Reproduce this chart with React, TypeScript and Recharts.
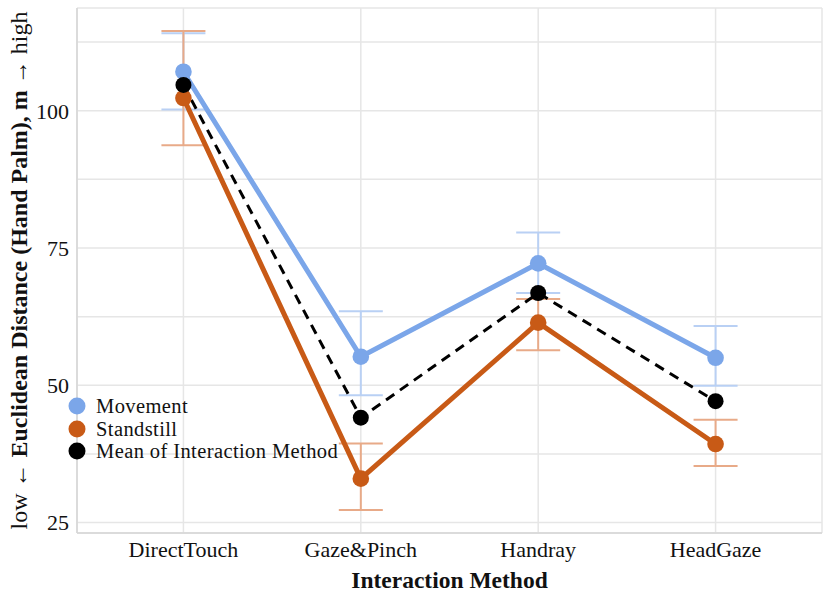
import * as React from 'react';
import { CartesianGrid, ErrorBar, Legend, Line, LineChart, XAxis, YAxis } from 'recharts';

document.body.style.margin = '0';

const FONT = '"Liberation Serif", serif';

const methods = ['DirectTouch', 'Gaze&Pinch', 'Handray', 'HeadGaze'];
const movementMean = [107.1, 55.2, 72.2, 55.0];
const movementLow = [100.2, 48.2, 66.8, 49.9];
const movementHigh = [114.1, 63.5, 77.8, 60.8];
const standstillMean = [102.3, 33.0, 61.4, 39.3];
const standstillLow = [93.7, 27.3, 56.4, 35.3];
const standstillHigh = [114.5, 39.4, 65.7, 43.7];
const overallMean = [104.7, 44.1, 66.8, 47.1];
const yTicks = [25, 37.5, 50, 62.5, 75, 87.5, 100, 112.5];
const xTicks = [1, 2, 3, 4];

const BLUE = '#7ba6e9';
const ORANGE = '#c85a16';

const legendItems = [
  { name: 'Movement', color: BLUE },
  { name: 'Standstill', color: ORANGE },
  { name: 'Mean of Interaction Method', color: '#000000' },
];

const data = methods.map((m, i) => ({
  x: i + 1,
  method: m,
  movement: movementMean[i],
  movementErr: [movementMean[i] - movementLow[i], movementHigh[i] - movementMean[i]],
  standstill: standstillMean[i],
  standstillErr: [standstillMean[i] - standstillLow[i], standstillHigh[i] - standstillMean[i]],
  mean: overallMean[i],
}));

function YLabel() {
  return (
    <text
      transform="translate(19, 270.5) rotate(-90)"
      textAnchor="middle"
      dominantBaseline="central"
      fontSize={24}
      fontFamily={FONT}
      fill="#111"
    >
      <tspan>low ← </tspan>
      <tspan fontWeight="bold">Euclidean Distance (Hand Palm), m</tspan>
      <tspan> → high</tspan>
    </text>
  );
}

function XLabel() {
  return (
    <text x={449.5} y={580} textAnchor="middle" dominantBaseline="central" fontSize={23.5} fontWeight="bold" fontFamily={FONT} fill="#111">
      Interaction Method
    </text>
  );
}

function LegendBox() {
  return (
    <div style={{ fontFamily: FONT, fontSize: 20.5, letterSpacing: 0.4, color: '#111', lineHeight: '22.5px' }}>
      {legendItems.map((it) => (
        <div key={it.name} style={{ display: 'flex', alignItems: 'center', height: 22.5 }}>
          <svg width={20} height={20} style={{ marginRight: 9 }}>
            <circle cx={10} cy={10} r={8.5} fill={it.color} />
          </svg>
          <span>{it.name}</span>
        </div>
      ))}
    </div>
  );
}

export default function App() {
  return (
    <LineChart width={830} height={600} data={data} margin={{ top: 8, right: 8, left: 0, bottom: 0 }}>
      <CartesianGrid stroke="#e6e6e6" strokeWidth={1.5} />
      <XAxis
        dataKey="x"
        type="number"
        domain={[0.4, 4.6]}
        ticks={xTicks}
        tickFormatter={(v: number) => methods[v - 1]}
        height={67}
        tickLine={false}
        axisLine={{ stroke: '#d6d6d6', strokeWidth: 1.5 }}
        tick={{ fontSize: 22, fontFamily: FONT, fill: '#111' }}
        label={<XLabel />}
      />
      <YAxis
        type="number"
        domain={[23.1, 118.7]}
        allowDataOverflow
        ticks={yTicks}
        tickFormatter={(v: number) => (v % 25 === 0 ? String(v) : '')}
        width={77}
        tickLine={false}
        axisLine={{ stroke: '#d6d6d6', strokeWidth: 1.5 }}
        tick={{ fontSize: 22, fontFamily: FONT, fill: '#111' }}
        label={<YLabel />}
      />
      <Legend
        layout="vertical"
        align="center"
        verticalAlign="middle"
        content={<LegendBox />}
        wrapperStyle={{ left: 67, top: 395, width: 330 }}
      />
      <Line
        dataKey="movement"
        stroke={BLUE}
        strokeWidth={5}
        dot={{ r: 8.3, fill: BLUE, stroke: 'none' }}
        activeDot={false}
        isAnimationActive={false}
      >
        <ErrorBar dataKey="movementErr" direction="y" width={22} stroke="#b9d0f4" strokeWidth={2} isAnimationActive={false} />
      </Line>
      <Line
        dataKey="standstill"
        stroke={ORANGE}
        strokeWidth={5}
        dot={{ r: 8.3, fill: ORANGE, stroke: 'none' }}
        activeDot={false}
        isAnimationActive={false}
      >
        <ErrorBar dataKey="standstillErr" direction="y" width={22} stroke="#e8aa88" strokeWidth={2} isAnimationActive={false} />
      </Line>
      <Line
        dataKey="mean"
        stroke="#000"
        strokeWidth={3}
        strokeDasharray="10 7"
        dot={{ r: 8, fill: '#000', stroke: 'none' }}
        activeDot={false}
        isAnimationActive={false}
      />
    </LineChart>
  );
}
